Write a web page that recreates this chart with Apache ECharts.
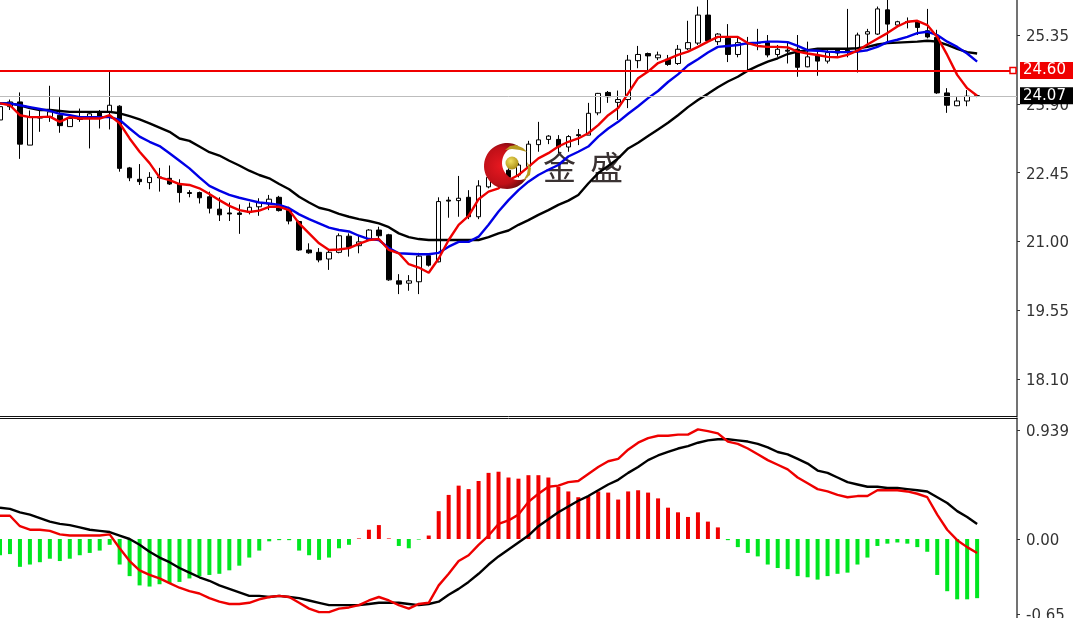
<!DOCTYPE html>
<html>
<head>
<meta charset="utf-8">
<style>html,body{margin:0;padding:0;background:#fff;overflow:hidden}#c{width:1073px;height:618px}</style>
<script src="https://cdn.jsdelivr.net/npm/echarts@6/dist/echarts.min.js"></script>
</head>
<body>
<div id="c"></div>
<script>
const barCount = 103;
const categories = Array.from({length: barCount}, (_, i) => 'B' + i);
const opens = [23.56,23.84,23.94,23.03,23.63,23.63,23.66,23.42,23.61,23.59,23.73,23.72,23.85,22.55,22.31,22.24,22.36,22.33,22.21,22.03,22.03,21.94,21.68,21.60,21.60,21.61,21.73,21.79,21.93,21.66,21.42,20.82,20.77,20.63,20.77,21.11,20.91,21.04,21.24,21.14,20.17,20.12,20.15,20.70,20.57,21.87,21.86,21.93,21.52,22.15,22.23,22.50,22.40,22.58,23.04,23.15,23.15,22.99,23.25,23.24,23.71,24.14,23.93,23.99,24.81,24.96,24.87,24.84,24.75,25.06,25.18,25.77,25.21,25.28,24.94,25.18,25.19,25.19,24.94,25.03,25.05,24.68,24.91,24.80,25.03,25.03,25.00,25.37,25.37,25.88,25.56,25.63,25.63,25.44,25.30,24.13,23.86,23.96,24.07];
const closes = [23.84,23.94,23.05,23.63,23.60,23.73,23.44,23.59,23.57,23.69,23.61,23.87,22.54,22.34,22.26,22.35,22.34,22.21,22.03,22.01,21.92,21.70,21.56,21.58,21.57,21.72,21.82,21.89,21.65,21.43,20.82,20.76,20.61,20.77,21.12,20.87,20.99,21.24,21.12,20.19,20.10,20.17,20.69,20.50,21.84,21.85,21.91,21.52,22.17,22.35,22.34,22.35,22.61,23.05,23.14,23.22,22.99,23.21,23.23,23.70,24.12,24.05,23.99,24.82,24.94,24.91,24.93,24.73,25.05,25.19,25.77,25.23,25.37,24.94,25.19,25.16,25.18,24.93,25.05,25.01,24.67,24.89,24.80,24.98,24.97,25.01,25.35,25.42,25.90,25.58,25.63,25.62,25.51,25.31,24.13,23.87,23.96,24.06,24.07];
const lows = [23.52,23.77,22.74,23.03,23.31,23.52,23.29,23.42,23.52,22.96,23.38,23.36,22.47,22.27,22.19,22.10,22.05,22.19,21.82,21.93,21.80,21.59,21.43,21.43,21.16,21.57,21.54,21.66,21.63,21.36,20.80,20.74,20.56,20.40,20.75,20.68,20.75,21.03,21.07,20.17,19.89,19.96,19.89,20.47,20.56,21.50,21.52,21.47,21.47,22.12,22.17,22.33,22.35,22.51,22.89,23.05,22.86,22.89,23.03,23.24,23.66,23.92,23.56,23.81,24.65,24.58,24.82,24.70,24.72,25.03,25.14,25.18,25.14,24.78,24.88,24.58,25.03,24.88,24.89,24.75,24.47,24.67,24.49,24.75,24.91,24.88,24.56,25.10,25.35,25.18,25.54,25.49,25.35,25.28,24.11,23.71,23.85,23.85,24.04];
const highs = [24.09,23.99,24.14,23.76,23.77,24.28,24.04,23.63,23.80,23.70,23.77,24.61,23.87,22.57,22.63,22.46,22.55,22.60,22.31,22.08,22.05,22.05,21.93,21.82,21.78,21.82,21.91,21.98,21.96,21.73,21.44,20.96,20.86,20.82,21.17,21.17,21.14,21.26,21.31,21.16,20.31,20.29,20.76,20.75,21.93,21.94,22.38,22.08,22.29,22.44,22.55,22.54,22.65,23.12,23.52,23.24,23.24,23.24,23.37,23.92,24.13,24.17,24.18,24.93,25.12,24.98,25.00,24.93,25.14,25.65,25.95,26.09,25.39,25.58,25.31,25.31,25.48,25.35,25.14,25.21,25.35,25.21,25.07,25.03,25.06,25.90,25.40,25.48,25.95,26.09,25.65,25.72,25.65,25.90,25.46,24.23,24.04,24.19,24.10];
const maRed = [23.91,23.87,23.66,23.62,23.62,23.63,23.52,23.62,23.59,23.59,23.59,23.66,23.49,23.17,22.89,22.65,22.35,22.29,22.21,22.19,22.12,22.00,21.87,21.75,21.66,21.62,21.65,21.73,21.73,21.66,21.38,21.17,20.96,20.82,20.83,20.86,20.95,21.03,21.05,20.82,20.75,20.52,20.45,20.34,20.64,21.03,21.35,21.54,21.89,22.05,22.12,22.29,22.40,22.57,22.75,22.86,23.00,23.10,23.17,23.28,23.45,23.66,23.81,24.12,24.44,24.58,24.76,24.84,24.93,25.00,25.10,25.21,25.31,25.31,25.31,25.18,25.12,25.10,25.10,25.09,25.00,24.96,24.93,24.89,24.88,24.93,25.02,25.15,25.27,25.39,25.53,25.63,25.65,25.56,25.31,24.93,24.51,24.23,24.07];
const maBlue = [23.91,23.91,23.87,23.83,23.79,23.75,23.69,23.66,23.62,23.62,23.62,23.62,23.56,23.38,23.21,23.10,23.01,22.86,22.70,22.54,22.35,22.17,22.07,21.98,21.92,21.87,21.82,21.80,21.77,21.70,21.57,21.47,21.38,21.29,21.24,21.21,21.12,21.05,21.03,20.86,20.75,20.74,20.73,20.73,20.76,20.89,20.99,20.99,21.10,21.35,21.63,21.87,22.08,22.26,22.40,22.51,22.61,22.79,22.89,23.00,23.21,23.38,23.52,23.69,23.85,24.02,24.17,24.36,24.52,24.71,24.84,24.98,25.10,25.12,25.14,25.18,25.19,25.21,25.21,25.20,25.12,25.03,25.02,25.00,24.99,24.99,25.00,25.03,25.10,25.20,25.25,25.31,25.39,25.42,25.35,25.21,25.10,24.96,24.79];
const maBlack = [23.91,23.91,23.87,23.81,23.77,23.77,23.75,23.73,23.73,23.73,23.73,23.73,23.70,23.64,23.57,23.49,23.40,23.31,23.17,23.12,23.00,22.88,22.81,22.70,22.60,22.49,22.40,22.33,22.21,22.10,21.94,21.82,21.71,21.66,21.58,21.52,21.47,21.43,21.38,21.30,21.17,21.09,21.05,21.03,21.03,21.03,21.03,21.03,21.03,21.09,21.17,21.23,21.35,21.45,21.56,21.66,21.77,21.86,21.98,22.22,22.44,22.59,22.75,22.96,23.08,23.22,23.36,23.50,23.66,23.83,23.98,24.11,24.25,24.37,24.47,24.60,24.70,24.79,24.86,24.95,25.00,25.03,25.06,25.06,25.06,25.06,25.07,25.10,25.15,25.18,25.19,25.20,25.21,25.23,25.21,25.14,25.06,24.99,24.96];
const macdHist = [-0.14,-0.13,-0.24,-0.22,-0.20,-0.17,-0.19,-0.17,-0.14,-0.12,-0.10,-0.05,-0.22,-0.32,-0.40,-0.41,-0.39,-0.38,-0.37,-0.34,-0.32,-0.31,-0.30,-0.27,-0.23,-0.16,-0.10,-0.02,-0.01,-0.01,-0.10,-0.14,-0.18,-0.16,-0.08,-0.05,0.005,0.08,0.12,0.005,-0.06,-0.08,-0.005,0.03,0.24,0.38,0.46,0.43,0.50,0.57,0.58,0.53,0.52,0.55,0.55,0.53,0.45,0.41,0.36,0.37,0.41,0.40,0.34,0.41,0.42,0.40,0.35,0.27,0.23,0.19,0.23,0.15,0.10,-0.01,-0.07,-0.12,-0.15,-0.22,-0.25,-0.26,-0.32,-0.33,-0.35,-0.32,-0.30,-0.29,-0.22,-0.16,-0.06,-0.04,-0.03,-0.04,-0.07,-0.11,-0.31,-0.45,-0.52,-0.52,-0.51];
const macdRed = [0.20,0.20,0.11,0.08,0.08,0.07,0.04,0.03,0.03,0.03,0.03,0.04,-0.08,-0.19,-0.27,-0.31,-0.34,-0.38,-0.42,-0.45,-0.47,-0.51,-0.54,-0.56,-0.56,-0.55,-0.52,-0.50,-0.49,-0.50,-0.55,-0.60,-0.63,-0.63,-0.60,-0.59,-0.57,-0.53,-0.50,-0.53,-0.57,-0.60,-0.56,-0.55,-0.40,-0.30,-0.19,-0.14,-0.05,0.03,0.13,0.16,0.21,0.32,0.39,0.45,0.46,0.49,0.50,0.56,0.62,0.67,0.69,0.77,0.83,0.87,0.89,0.89,0.90,0.90,0.945,0.93,0.91,0.84,0.82,0.78,0.73,0.68,0.64,0.60,0.53,0.48,0.43,0.41,0.38,0.36,0.37,0.37,0.42,0.42,0.42,0.41,0.39,0.36,0.21,0.08,-0.01,-0.07,-0.12];
const macdBlack = [0.27,0.26,0.23,0.21,0.18,0.15,0.13,0.12,0.10,0.08,0.07,0.06,0.03,0,-0.05,-0.11,-0.16,-0.20,-0.25,-0.29,-0.33,-0.36,-0.40,-0.43,-0.46,-0.49,-0.49,-0.50,-0.49,-0.50,-0.51,-0.53,-0.55,-0.57,-0.57,-0.57,-0.57,-0.56,-0.55,-0.55,-0.55,-0.56,-0.57,-0.56,-0.54,-0.48,-0.43,-0.37,-0.30,-0.22,-0.15,-0.09,-0.03,0.03,0.11,0.17,0.23,0.28,0.33,0.37,0.42,0.47,0.51,0.57,0.62,0.68,0.72,0.75,0.78,0.80,0.83,0.85,0.86,0.86,0.85,0.84,0.82,0.79,0.75,0.73,0.69,0.65,0.59,0.57,0.53,0.49,0.47,0.45,0.45,0.44,0.44,0.43,0.42,0.41,0.36,0.31,0.24,0.19,0.13];
const priceTicks = [25.35,23.90,22.45,21.00,19.55,18.10];
const macdTicks = [0.939,0,-0.65];
const redPrice = 24.60;
const lastPrice = 24.07;

const FONT = '"DejaVu Sans"';
const candles = opens.map((o, i) => [o, closes[i], lows[i], highs[i]]);
const lineSeries = (name, data, color, xi, width) => ({
  name, type: 'line', data, xAxisIndex: xi, yAxisIndex: xi, symbol: 'none', smooth: false,
  lineStyle: {color, width: width || 2.4}, z: 4, silent: true
});
const priceLabel = (bg) => ({
  show: true, position: 'end', distance: 3, color: '#fff', backgroundColor: bg,
  fontFamily: FONT, fontSize: 15, padding: [1, 3, 1, 3], width: 50, height: 15, align: 'left',
  lineHeight: 15, formatter: p => p.value.toFixed(2)
});
// decorative logo outline
const arc = (cx, cy, r, from, to, n) => Array.from({length: n + 1}, (_, i) => {
  const a = (from + (to - from) * i / n) * Math.PI / 180;
  return [cx + r * Math.cos(a), cy + r * Math.sin(a)];
});
const crescent = arc(507, 166, 23, -61, -331, 40).concat(arc(519, 163, 17, 60, 267, 30));
const chart = echarts.init(document.getElementById('c'), null, {renderer: 'canvas'});
chart.setOption({
  animation: false,
  backgroundColor: '#fff',
  grid: [
    {left: 0, width: 1017, top: 0, height: 416, outerBoundsMode: 'none'},
    {left: 0, width: 1017, top: 418, height: 200, outerBoundsMode: 'none'}
  ],
  xAxis: [0, 1].map(i => ({
    type: 'category', gridIndex: i, data: categories, boundaryGap: false,
    position: i ? 'top' : 'bottom',
    axisLine: {onZero: false, lineStyle: {color: '#111', width: 1}},
    axisTick: {show: false}, axisLabel: {show: false}, splitLine: {show: false}
  })),
  yAxis: [
    {min: 17.321, max: 26.088, ticks: priceTicks},
    {min: -0.681, max: 1.043, ticks: macdTicks}
  ].map((a, i) => ({
    type: 'value', gridIndex: i, position: 'right', min: a.min, max: a.max, scale: true,
    axisLine: {show: true, onZero: false, lineStyle: {color: '#444', width: 1.5}},
    axisTick: {show: true, length: 3, customValues: a.ticks, lineStyle: {color: '#333'}},
    axisLabel: {
      show: true, customValues: a.ticks, margin: 9, showMinLabel: true, showMaxLabel: true,
      formatter: v => '{t|' + (v === 0.939 ? '0.939' : v.toFixed(2)) + '}',
      rich: {t: {color: '#333', fontFamily: FONT, fontSize: 15, padding: [4, 0, 0, 0]}}
    },
    splitLine: {show: false}
  })),
  series: [
    {
      name: 'price', type: 'candlestick', data: candles, xAxisIndex: 0, yAxisIndex: 0,
      barWidth: 5, z: 2, silent: true,
      itemStyle: {color: '#fff', color0: '#000', borderColor: '#000', borderColor0: '#000', borderColorDoji: '#000', borderWidth: 1}
    },
    lineSeries('ma-black', maBlack, '#000', 0),
    lineSeries('ma-blue', maBlue, '#0000e6', 0),
    lineSeries('ma-red', maRed, '#ee0000', 0),
    {
      name: 'levels', type: 'line', data: [], xAxisIndex: 0, yAxisIndex: 0, z: 6, silent: true,
      markLine: {
        silent: true, animation: false, precision: 2, symbol: 'none',
        data: [
          {yAxis: lastPrice, lineStyle: {color: '#bdbdbd', width: 1, type: 'solid'}, label: priceLabel('#000')},
          {yAxis: redPrice, lineStyle: {color: '#f00000', width: 2, type: 'solid'}, label: priceLabel('#f00000')}
        ]
      },
      markPoint: {
        silent: true, animation: false, symbol: 'rect', symbolSize: 6, symbolOffset: [-4, 0],
        itemStyle: {color: '#fff', borderColor: '#f00000', borderWidth: 1.5}, label: {show: false},
        data: [{coord: [categories[barCount - 1], redPrice]}]
      }
    },
    {
      name: 'hist', type: 'bar', data: macdHist, xAxisIndex: 1, yAxisIndex: 1, barWidth: 4, z: 2, silent: true,
      itemStyle: {color: p => p.value >= 0 ? '#f00000' : '#00e620'}
    },
    lineSeries('macd-black', macdBlack, '#000', 1),
    lineSeries('macd-red', macdRed, '#ee0000', 1)
  ],
  graphic: {
    elements: [
      {type: 'text', x: 543, y: 151, z: 1, style: {text: '金', font: '33px "Noto Sans CJK SC"', fill: '#3a3232'}},
      {type: 'text', x: 590, y: 151, z: 1, style: {text: '盛', font: '33px "Noto Sans CJK SC"', fill: '#3a3232'}},
      {type: 'polygon', z: 20, silent: true, shape: {points: crescent},
        style: {fill: {type: 'radial', x: 0.4, y: 0.5, r: 0.6, colorStops: [{offset: 0, color: '#e81820'}, {offset: 0.7, color: '#c01018'}, {offset: 1, color: '#700a10'}]}}
      },
      {type: 'circle', z: 21, silent: true, shape: {cx: 512, cy: 163, r: 6.5},
        style: {fill: {type: 'radial', x: 0.4, y: 0.35, r: 0.7, colorStops: [{offset: 0, color: '#f0e060'}, {offset: 1, color: '#a88a10'}]}}
      },
      {type: 'polygon', z: 21, silent: true, shape: {points: [[505,150],[510,146],[516,145],[523,148],[527,152],[520,150],[512,149]]}, style: {fill: '#b89a20'}},
      {type: 'polygon', z: 21, silent: true, shape: {points: [[527,162],[531,168],[530,175],[523,181],[527,174],[528,168]]}, style: {fill: '#b89a20'}}
    ]
  }
});
</script>
</body>
</html>
